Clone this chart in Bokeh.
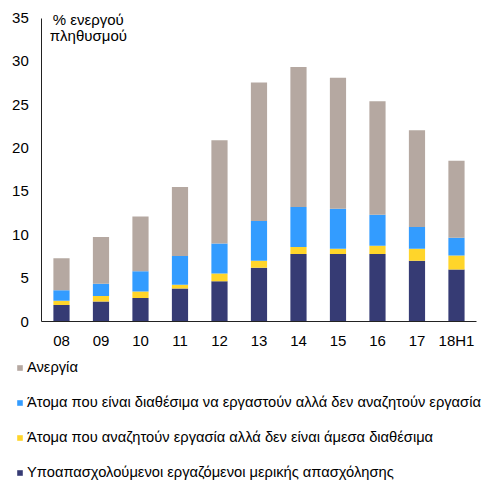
from bokeh.plotting import figure
from bokeh.models import Legend, LegendItem, Label, FixedTicker, Range1d
from bokeh.embed import file_html
from bokeh.resources import INLINE

years = ["08", "09", "10", "11", "12", "13", "14", "15", "16", "17", "18H1"]
underemployed = [1.9, 2.3, 2.7, 3.8, 4.65, 6.2, 7.8, 7.8, 7.8, 7.0, 6.0]
seeking_not_available = [0.5, 0.65, 0.75, 0.45, 0.9, 0.8, 0.8, 0.6, 0.95, 1.4, 1.6]
available_not_seeking = [1.2, 1.4, 2.35, 3.3, 3.45, 4.6, 4.6, 4.6, 3.55, 2.5, 2.05]
unemployment = [3.7, 5.4, 6.3, 7.95, 11.9, 15.95, 16.15, 15.1, 13.1, 11.15, 8.9]

series_keys = ["under", "seek", "avail", "unemp"]
series_labels = [
    "Υποαπασχολούμενοι εργαζόμενοι μερικής απασχόλησης",
    "Άτομα που αναζητούν εργασία αλλά δεν είναι άμεσα διαθέσιμα",
    "Άτομα που είναι διαθέσιμα να εργαστούν αλλά δεν αναζητούν εργασία",
    "Ανεργία",
]
colors = ["#363B74", "#FFD52A", "#339CFF", "#B5A8A1"]
y_ticks = [0, 5, 10, 15, 20, 25, 30, 35]
unit_line1 = "% ενεργού"
unit_line2 = "πληθυσμού"

FONT = "Liberation Sans"
FS = "15px"
LEG_FS = "14.7px"

idx = list(range(len(years)))
data = dict(x=idx, under=underemployed, seek=seeking_not_available,
            avail=available_not_seeking, unemp=unemployment)

p = figure(x_range=Range1d(-1.544, 10.836), y_range=Range1d(-18.45, 37.02),
           width=489, height=481,
           output_backend="svg", toolbar_location=None,
           min_border_left=0, min_border_right=0, min_border_top=0,
           min_border_bottom=0)
p.outline_line_color = None
p.xgrid.grid_line_color = None
p.ygrid.grid_line_color = None

renderers = p.vbar_stack(series_keys, x="x", width=0.41, color=colors,
                         line_color=None, source=data)

p.yaxis.ticker = FixedTicker(ticks=y_ticks)
p.xaxis.ticker = FixedTicker(ticks=idx)
p.xaxis.major_label_overrides = {i: y for i, y in zip(idx, years)}
p.xaxis.fixed_location = 0
p.xaxis.bounds = (-0.5, len(years) - 0.5)
p.yaxis.fixed_location = -0.5
p.yaxis.bounds = (0, 35)
for ax in (p.xaxis[0], p.yaxis[0]):
    ax.major_tick_line_color = None
    ax.minor_tick_line_color = None
    ax.major_tick_in = 0
    ax.major_tick_out = 0
    ax.axis_line_color = "#222222"
    ax.axis_line_width = 1
    ax.major_label_text_font = FONT
    ax.major_label_text_font_size = FS
    ax.major_label_text_color = "#000000"
p.yaxis.major_label_standoff = 13
p.xaxis.major_label_standoff = 10

items = [LegendItem(label=series_labels[i], renderers=[renderers[i]]) for i in [3, 2, 1, 0]]
legend = Legend(items=items, location=(16, -1), orientation="vertical",
                glyph_width=7, glyph_height=7, label_standoff=4,
                label_height=20, spacing=15, padding=0, margin=0,
                border_line_color=None, background_fill_alpha=0,
                label_text_font=FONT, label_text_font_size=LEG_FS,
                label_text_color="#000000")
p.add_layout(legend, "center")

p.add_layout(Label(x=0.68, y=34.85, text=unit_line1, text_align="center",
                   text_baseline="middle", text_font=FONT, text_font_size=FS,
                   text_color="#000000"))
p.add_layout(Label(x=0.68, y=33.0, text=unit_line2, text_align="center",
                   text_baseline="middle", text_font=FONT, text_font_size=FS,
                   text_color="#000000"))

open("out.html", "w").write(file_html(p, INLINE))
